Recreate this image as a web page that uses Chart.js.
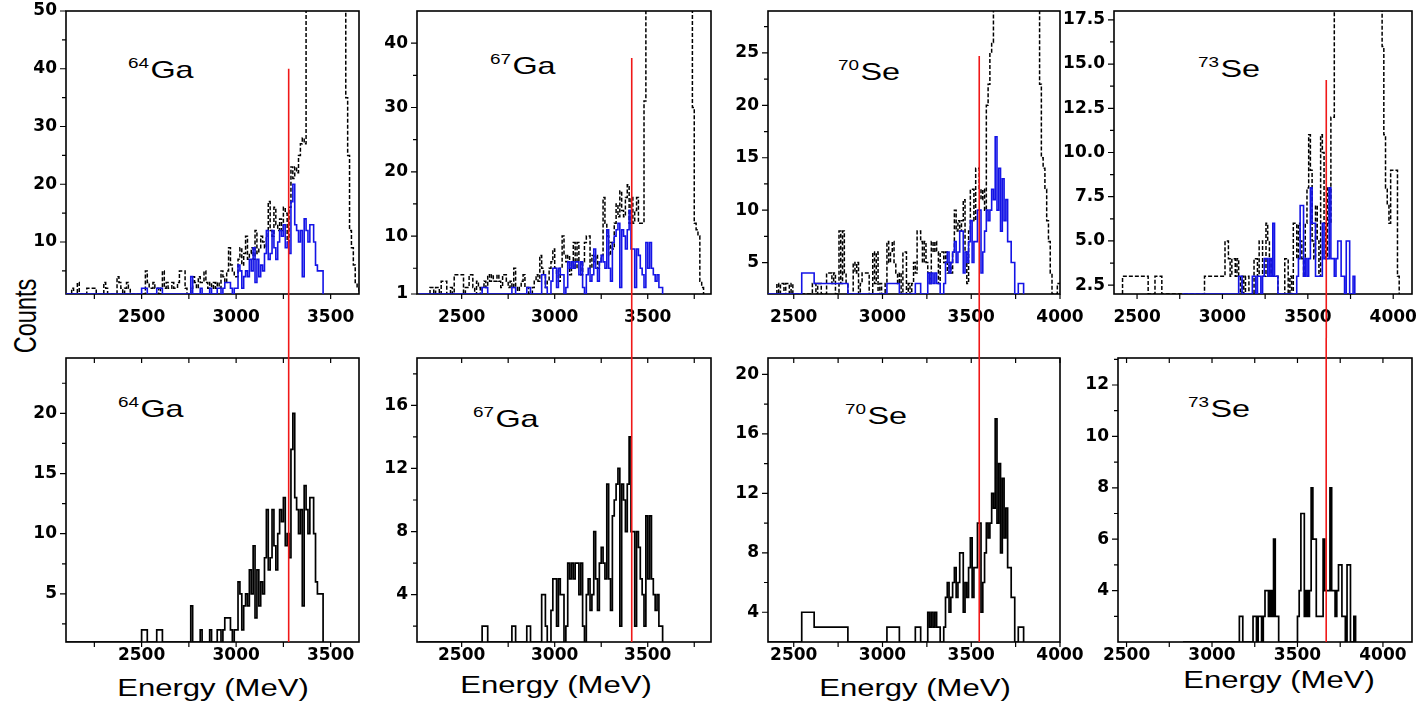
<!DOCTYPE html>
<html>
<head>
<meta charset="utf-8">
<title>Energy spectra</title>
<script src="https://cdn.jsdelivr.net/npm/chart.js@4.4.1/dist/chart.umd.min.js"></script>
<style>
  html, body { margin: 0; padding: 0; background: #fff; }
  body { position: relative; width: 1421px; height: 709px; overflow: hidden;
         font-family: "Liberation Sans", Arial, sans-serif; color: #000; }
  canvas { position: absolute; }
  .iso { position: absolute; font-size: 24px; line-height: 24px; white-space: nowrap;
         transform: scaleX(1.35); transform-origin: 0 0; }
  .iso span { font-size: 14px; position: relative; top: -10px; margin-right: 1px; }
  .xtitle { position: absolute; font-size: 23px; line-height: 23px; white-space: nowrap;
            transform: translateX(-50%) scaleX(1.35); }
  #counts { position: absolute; left: 26px; top: 316px; font-size: 23.5px; line-height: 24px;
            white-space: nowrap; transform: translate(-50%, -50%) rotate(-90deg) scaleY(1.3); }
</style>
</head>
<body>
<div id="counts">Counts</div>

<div class="iso" style="left:128px;top:58px"><span>64</span>Ga</div>
<div class="iso" style="left:490px;top:54px"><span>67</span>Ga</div>
<div class="iso" style="left:838px;top:60px"><span>70</span>Se</div>
<div class="iso" style="left:1198px;top:57px"><span>73</span>Se</div>
<div class="iso" style="left:118px;top:397px"><span>64</span>Ga</div>
<div class="iso" style="left:473px;top:407px"><span>67</span>Ga</div>
<div class="iso" style="left:845px;top:404px"><span>70</span>Se</div>
<div class="iso" style="left:1188px;top:397px"><span>73</span>Se</div>

<div class="xtitle" style="left:213px;top:677px">Energy (MeV)</div>
<div class="xtitle" style="left:556px;top:674px">Energy (MeV)</div>
<div class="xtitle" style="left:915px;top:677px">Energy (MeV)</div>
<div class="xtitle" style="left:1279px;top:669px">Energy (MeV)</div>

<script>
/* histogram data: counts per 10 MeV bin, first bin starts at *Start */
const binWidth = 10;

// 64Ga
const ga64SelStart = 2100;
const ga64SelCounts = [
  0, 0, 0, 0, 0, 0, 0, 0, 0, 0,
  0, 0, 0, 0, 0, 0, 0, 0, 0, 0,
  0, 0, 0, 0, 0, 0, 0, 0, 0, 0,
  0, 0, 0, 0, 0, 0, 0, 0, 0, 0,
  2, 2, 2, 0, 0, 0, 0, 0, 2, 2,
  2, 0, 0, 0, 0, 0, 0, 0, 0, 0,
  0, 0, 0, 0, 0, 0, 4, 0, 0, 0,
  0, 2, 0, 0, 0, 0, 2, 0, 0, 0,
  2, 2, 0, 2, 3, 3, 3, 2, 0, 2,
  2, 6, 5, 2, 4, 5, 4, 7, 5, 9,
  3, 7, 4, 6, 5, 8, 12, 7, 8, 12,
  9, 7, 10, 12, 11, 13, 9, 10, 8, 17,
  20, 13, 12, 10, 12, 4, 14, 12, 10, 13,
  13, 10, 6, 5, 5, 5
];
const ga64AllStart = 2100;
const ga64AllCounts = [   // 80 = above the top of the axis
  0, 0, 0, 2, 0, 0, 3, 0, 0, 0,
  0, 2, 2, 2, 2, 2, 0, 0, 0, 0,
  3, 2, 0, 0, 0, 0, 0, 4, 3, 2,
  0, 2, 3, 2, 0, 0, 0, 0, 0, 0,
  0, 0, 5, 3, 2, 2, 3, 2, 2, 0,
  2, 5, 2, 3, 2, 2, 3, 2, 2, 3,
  5, 5, 5, 2, 0, 0, 2, 4, 3, 2,
  4, 3, 3, 5, 3, 2, 3, 2, 3, 2,
  3, 2, 5, 4, 3, 5, 9, 6, 5, 4,
  4, 7, 9, 6, 8, 11, 7, 8, 9, 7,
  12, 8, 9, 11, 10, 9, 11, 17, 12, 11,
  16, 13, 12, 14, 12, 16, 15, 10, 16, 23,
  21, 23, 22, 25, 27, 28, 27, 80, 80, 80,
  80, 80, 80, 80, 80, 80, 80, 80, 80, 80,
  80, 80, 80, 80, 80, 80, 80, 80, 35, 25,
  12, 9, 6, 3, 2
];

// 67Ga
const ga67SelStart = 2270;
const ga67SelCounts = [
  0, 0, 0, 0, 0, 0, 0, 0, 0, 0,
  0, 0, 0, 0, 0, 0, 0, 0, 0, 0,
  0, 0, 0, 0, 0, 0, 0, 0, 0, 0,
  0, 0, 0, 0, 2, 2, 2, 0, 0, 0,
  0, 0, 0, 0, 0, 0, 0, 0, 0, 0,
  2, 2, 0, 0, 0, 0, 0, 0, 2, 2,
  0, 0, 0, 0, 0, 0, 4, 4, 2, 0,
  0, 3, 5, 5, 2, 5, 4, 4, 0, 2,
  6, 5, 6, 5, 6, 6, 4, 6, 2, 0,
  4, 5, 3, 4, 8, 5, 3, 6, 7, 6,
  5, 11, 5, 3, 9, 10, 11, 12, 2, 11,
  10, 8, 11, 14, 8, 8, 2, 8, 7, 5,
  4, 2, 9, 5, 9, 5, 4, 3, 4, 2, 2
];
const ga67AllStart = 2330;
const ga67AllCounts = [
  2, 2, 0, 2, 2, 0, 3, 3, 3, 0,
  0, 2, 0, 4, 4, 4, 4, 4, 0, 2,
  2, 4, 4, 2, 0, 3, 2, 0, 2, 3,
  2, 4, 3, 4, 3, 3, 4, 3, 2, 4,
  4, 3, 2, 3, 2, 5, 2, 0, 2, 3,
  4, 2, 2, 0, 0, 2, 3, 4, 3, 7,
  5, 4, 2, 3, 5, 6, 8, 5, 4, 3,
  5, 10, 7, 6, 7, 4, 5, 9, 5, 9,
  6, 4, 6, 9, 10, 10, 5, 7, 6, 7,
  5, 6, 7, 16, 12, 10, 7, 9, 8, 12,
  15, 13, 17, 14, 13, 16, 18, 12, 16, 12,
  14, 16, 12, 12, 12, 31, 80, 80, 80, 80,
  80, 80, 80, 80, 80, 80, 80, 80, 80, 80,
  80, 80, 80, 80, 80, 80, 80, 80, 80, 80,
  80, 30, 12, 11, 10, 3, 2
];

// 70Se
const se70SelStart = 2355;
const se70SelCounts = [
  0, 0, 0, 0, 0, 0, 0, 0, 0, 0,
  0, 0, 0, 0, 0, 0, 0, 0, 0, 4,
  4, 4, 4, 4, 4, 4, 3, 3, 3, 3,
  3, 3, 3, 3, 3, 3, 3, 3, 3, 3,
  3, 3, 3, 3, 3, 0, 0, 0, 0, 0,
  0, 0, 0, 0, 0, 0, 0, 0, 0, 0,
  0, 0, 0, 0, 0, 0, 0, 3, 3, 3,
  3, 3, 3, 3, 0, 0, 0, 0, 0, 0,
  0, 0, 0, 3, 3, 3, 0, 0, 0, 0,
  4, 3, 4, 3, 4, 3, 3, 0, 0, 3,
  5, 6, 4, 5, 6, 7, 5, 6, 8, 8,
  4, 6, 5, 7, 9, 5, 7, 7, 10, 10,
  4, 6, 8, 10, 9, 10, 12, 11, 17, 10,
  14, 8, 13, 9, 11, 7, 7, 5, 5, 0,
  0, 3, 3, 3
];
const se70AllStart = 2405;
const se70AllCounts = [
  3, 2, 3, 3, 2, 3, 3, 2, 3, 0,
  0, 0, 0, 0, 0, 0, 0, 0, 0, 0,
  3, 3, 2, 3, 3, 0, 0, 0, 4, 4,
  4, 3, 4, 0, 0, 8, 3, 8, 4, 3,
  0, 0, 0, 5, 4, 5, 0, 3, 4, 4,
  4, 4, 0, 0, 6, 3, 6, 0, 3, 2,
  0, 3, 7, 5, 6, 7, 5, 4, 3, 4,
  0, 6, 6, 0, 3, 2, 3, 5, 4, 8,
  8, 7, 5, 7, 5, 4, 3, 7, 6, 7,
  6, 3, 6, 6, 5, 6, 4, 5, 4, 6,
  10, 8, 9, 8, 9, 11, 6, 3, 8, 12,
  12, 9, 14, 14, 12, 11, 12, 10, 20, 22,
  25, 26, 80, 80, 80, 80, 80, 80, 80, 80,
  80, 80, 80, 80, 80, 80, 80, 80, 80, 80,
  80, 80, 80, 80, 80, 80, 80, 80, 22, 15,
  14, 12, 9, 7, 4, 2, 0, 0, 3, 3
];

// 73Se (top and bottom panels are read against their own energy axes)
const se73SelStartTop = 2765;
const se73SelStartBottom = 2830;
const se73SelCounts = [
  0, 0, 0, 0, 0, 0, 0, 0, 0, 0,
  0, 0, 0, 0, 0, 0, 0, 0, 0, 0,
  0, 0, 0, 0, 0, 0, 0, 0, 0, 0,
  0, 0, 0, 3, 3, 0, 0, 0, 0, 0,
  0, 3, 3, 0, 3, 3, 0, 3, 4, 4,
  3, 4, 3, 6, 3, 3, 0, 0, 0, 0,
  0, 0, 0, 0, 0, 0, 0, 3, 4, 7,
  7, 3, 4, 3, 4, 8, 6, 6, 3, 3,
  3, 3, 6, 4, 4, 4, 8, 4, 4, 3,
  4, 5, 5, 3, 3, 2, 5, 5, 2, 0, 3
];
const se73AllStart = 2415;
const se73AllCounts = [
  3, 3, 3, 3, 3, 3, 3, 3, 3, 3,
  3, 3, 3, 3, 3, 0, 0, 0, 0, 3,
  3, 3, 3, 0, 0, 0, 0, 0, 0, 0,
  0, 0, 0, 0, 0, 0, 0, 0, 0, 0,
  0, 0, 0, 0, 0, 0, 0, 0, 3, 3,
  3, 3, 3, 3, 3, 3, 3, 3, 3, 3,
  5, 5, 4, 3, 4, 4, 3, 4, 3, 2,
  3, 2, 3, 3, 2, 0, 0, 4, 4, 3,
  5, 5, 3, 3, 6, 5, 4, 3, 3, 3,
  3, 0, 0, 0, 0, 4, 4, 2, 3, 2,
  6, 6, 4, 6, 5, 4, 3, 6, 8, 11,
  9, 5, 4, 7, 5, 3, 11, 10, 6, 4,
  8, 6, 12, 12, 40, 40, 40, 40, 40, 40,
  40, 40, 40, 40, 40, 40, 40, 40, 40, 40,
  40, 40, 40, 40, 40, 40, 40, 40, 40, 40,
  40, 40, 16, 11, 8, 7, 6, 9, 9, 9, 9, 3
];

// red marker line: energy in each panel, and its top (counts, upper panel)
const redLineEnergyTop = [3278, 3414, 3545, 3608];
const redLineEnergyBottom = [3278, 3414, 3545, 3668];
const redLineTopCount = [40, 37.7, 24.7, 14.1];

// axis ranges and ticks
const xRangeTop = [[2100, 3650], [2260, 3840], [2355, 4000], [2365, 4110]];
const xRangeBottom = [[2100, 3650], [2260, 3840], [2355, 4000], [2450, 4170]];
const yRangeTop = [[1, 50], [1, 45], [2, 29], [2, 18]];
const yRangeBottom = [[1, 24.6], [1, 19], [2, 21.1], [2, 13.05]];

const xMajor = [[2500, 3000, 3500], [2500, 3000, 3500], [2500, 3000, 3500, 4000], [2500, 3000, 3500, 4000]];
const xMinor = [[2250, 2750, 3250], [2750, 3250, 3750], [2750, 3250, 3750], [2750, 3250, 3750]];

const yMajorTop = [[10, 20, 30, 40, 50], [1, 10, 20, 30, 40], [5, 10, 15, 20, 25], [2.5, 5, 7.5, 10, 12.5, 15, 17.5]];
const yMinorTop = [[5, 15, 25, 35, 45], [5, 15, 25, 35], [7.5, 12.5, 17.5, 22.5, 27.5], [3.75, 6.25, 8.75, 11.25, 13.75, 16.25]];
const yMajorBottom = [[5, 10, 15, 20], [4, 8, 12, 16], [4, 8, 12, 16, 20], [4, 6, 8, 10, 12]];
const yMinorBottom = [[2.5, 7.5, 12.5, 17.5, 22.5], [2, 6, 10, 14, 18], [6, 10, 14, 18], [3, 5, 7, 9, 11, 13]];

/* layout */
const ROWS = {
  top:    { top: 0,   h: 338, padTop: 11, axisH: 44, labelGap: 24 },
  bottom: { top: 338, h: 371, padTop: 20, axisH: 67, labelGap: 14 }
};
const COLS = [
  { left: 66,   right: 359,  padR: 30 },
  { left: 417,  right: 711,  padR: 30 },
  { left: 768,  right: 1060, padR: 30 },
  { left: 1114, right: 1412, padR: 9 }
];
const Y_AXIS_W = 62;
const TICK_FONT = 'bold 17px "DejaVu Sans", sans-serif';

function histPoints(start, counts, floor) {
  const pts = [{ x: start, y: floor }];
  counts.forEach(function(c, i) {
    const v = Math.max(c, floor);
    pts.push({ x: start + i * binWidth, y: v });
    pts.push({ x: start + (i + 1) * binWidth, y: v });
  });
  pts.push({ x: start + counts.length * binWidth, y: floor });
  return pts;
}

// frame, tick marks and tick labels, placed through the chart's own scales
function framePlugin(p) {
  const row = ROWS[p.row];
  return {
    id: 'frame',
    beforeDatasetsDraw(chart) {
      const { ctx, chartArea: a, scales: { x, y } } = chart;
      ctx.save();
      ctx.strokeStyle = '#000';
      ctx.lineWidth = 1.6;
      ctx.strokeRect(a.left, a.top, a.right - a.left, a.bottom - a.top);
      ctx.lineWidth = 1.2;
      ctx.beginPath();
      p.yMajor.forEach(function(v) {
        const py = y.getPixelForValue(v);
        ctx.moveTo(a.left - 6, py); ctx.lineTo(a.left, py);
      });
      p.yMinor.forEach(function(v) {
        const py = y.getPixelForValue(v);
        ctx.moveTo(a.left - 4, py); ctx.lineTo(a.left, py);
      });
      p.xMajor.concat(p.xMinor).forEach(function(v) {
        const px = x.getPixelForValue(v);
        ctx.moveTo(px, a.bottom); ctx.lineTo(px, a.bottom + 5);
        if (p.row === 'bottom') { ctx.moveTo(px, a.top); ctx.lineTo(px, a.top + 5); }
      });
      ctx.stroke();

      ctx.fillStyle = '#000';
      ctx.font = TICK_FONT;
      ctx.textAlign = 'right';
      ctx.textBaseline = 'middle';
      p.yMajor.forEach(function(v) {
        ctx.fillText(p.decimals ? v.toFixed(1) : String(v), a.left - 9, y.getPixelForValue(v));
      });
      ctx.textAlign = 'center';
      p.xMajor.forEach(function(v) {
        ctx.fillText(String(v), x.getPixelForValue(v), a.bottom + row.labelGap);
      });
      ctx.restore();
    }
  };
}

function redLinePlugin(p) {
  return {
    id: 'redline',
    afterDatasetsDraw(chart) {
      const { ctx, chartArea: a, scales: { x, y } } = chart;
      const px = x.getPixelForValue(p.redE);
      const y0 = p.row === 'top' ? y.getPixelForValue(p.redTop) : 0;
      const y1 = p.row === 'top' ? chart.height : a.bottom;
      ctx.save();
      ctx.strokeStyle = '#f01818';
      ctx.lineWidth = 1.6;
      ctx.beginPath();
      ctx.moveTo(px, y0); ctx.lineTo(px, y1);
      ctx.stroke();
      ctx.restore();
    }
  };
}

function renderPanel(p) {
  const row = ROWS[p.row];
  const col = COLS[p.col];
  const left = (p.row === 'bottom' && p.col === 3) ? 1118 : col.left;
  const cLeft = left - Y_AXIS_W;
  const w = col.right - cLeft + col.padR;
  const cv = document.createElement('canvas');
  cv.width = w; cv.height = row.h;
  cv.style.left = cLeft + 'px'; cv.style.top = row.top + 'px';
  cv.style.width = w + 'px'; cv.style.height = row.h + 'px';
  document.body.appendChild(cv);

  new Chart(cv, {
    type: 'line',
    data: { datasets: p.datasets },
    plugins: [framePlugin(p), redLinePlugin(p)],
    options: {
      responsive: false,
      animation: false,
      devicePixelRatio: 1,
      events: [],
      layout: { padding: { top: row.padTop, right: col.padR, left: 0, bottom: 0 }, autoPadding: false },
      plugins: { legend: { display: false }, tooltip: { enabled: false } },
      elements: { point: { radius: 0 }, line: { tension: 0 } },
      scales: {
        x: {
          type: 'linear', min: p.xRange[0], max: p.xRange[1],
          afterFit: function(s) { s.height = row.axisH; },
          grid: { display: false, drawTicks: false },
          border: { display: false },
          ticks: { display: false }
        },
        y: {
          type: 'linear', min: p.yRange[0], max: p.yRange[1],
          afterFit: function(s) { s.width = Y_AXIS_W; },
          grid: { display: false, drawTicks: false },
          border: { display: false },
          ticks: { display: false }
        }
      }
    }
  });
}

const selTop = [
  [ga64SelStart, ga64SelCounts], [ga67SelStart, ga67SelCounts],
  [se70SelStart, se70SelCounts], [se73SelStartTop, se73SelCounts]
];
const selBottom = [
  [ga64SelStart, ga64SelCounts], [ga67SelStart, ga67SelCounts],
  [se70SelStart, se70SelCounts], [se73SelStartBottom, se73SelCounts]
];
const allTop = [
  [ga64AllStart, ga64AllCounts], [ga67AllStart, ga67AllCounts],
  [se70AllStart, se70AllCounts], [se73AllStart, se73AllCounts]
];

for (let i = 0; i < 4; i++) {
  const yMinT = yRangeTop[i][0];
  renderPanel({
    row: 'top', col: i,
    xRange: xRangeTop[i], yRange: yRangeTop[i],
    xMajor: xMajor[i], xMinor: xMinor[i],
    yMajor: yMajorTop[i], yMinor: yMinorTop[i],
    decimals: i === 3,
    redE: redLineEnergyTop[i], redTop: redLineTopCount[i],
    datasets: [
      { data: histPoints(selTop[i][0], selTop[i][1], yMinT), borderColor: '#1414e6', borderWidth: 1.6 },
      { data: histPoints(allTop[i][0], allTop[i][1], yMinT), borderColor: '#000', borderWidth: 1.5, borderDash: [4, 2] }
    ]
  });
  const yMinB = yRangeBottom[i][0];
  renderPanel({
    row: 'bottom', col: i,
    xRange: xRangeBottom[i], yRange: yRangeBottom[i],
    xMajor: xMajor[i], xMinor: xMinor[i],
    yMajor: yMajorBottom[i], yMinor: yMinorBottom[i],
    decimals: false,
    redE: redLineEnergyBottom[i],
    datasets: [
      { data: histPoints(selBottom[i][0], selBottom[i][1], yMinB), borderColor: '#000', borderWidth: 1.7 }
    ]
  });
}
</script>
</body>
</html>
